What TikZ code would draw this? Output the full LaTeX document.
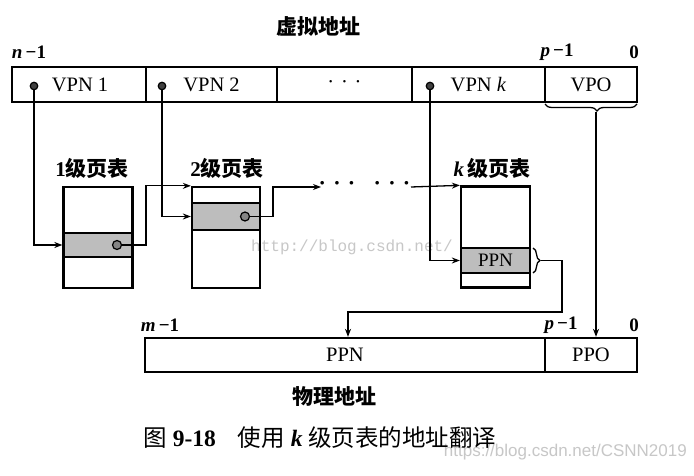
\documentclass[tikz,border=0pt]{standalone}
\usepackage{fontspec}
\setmainfont{Liberation Serif}
\newfontfamily\cjk{Noto Sans CJK SC}
\newfontfamily\wmono{Liberation Mono}
\newfontfamily\wsans{Liberation Sans}
\usetikzlibrary{arrows.meta,decorations.pathreplacing,calc}
\definecolor{shade}{gray}{0.74}
\definecolor{wmark}{gray}{0.78}
\begin{document}
\begin{tikzpicture}[x=1pt,y=-1pt,
  cell/.style={draw,line width=2.3pt,minimum height=35pt,inner sep=0pt,font=\fontsize{20.5}{20.5}\selectfont},
  tbl/.style={draw,line width=2.3pt,minimum width=69pt,minimum height=101pt,inner sep=0pt},
  shaderow/.style={draw,line width=2.3pt,fill=shade,minimum width=69pt,inner sep=0pt,font=\fontsize{19}{19}\selectfont},
  vdot/.style={circle,draw,line width=1.2pt,fill=black!75,minimum size=7.5pt,inner sep=0pt},
  tdot/.style={circle,draw,line width=1.2pt,fill=shade!70!black,minimum size=9pt,inner sep=0pt},
  conn/.style={line width=1.3pt,-{Stealth[length=8pt,width=6pt]}},
  lbl/.style={font=\fontsize{19}{19}\selectfont\bfseries,inner sep=0pt},
  cjklbl/.style={font=\fontsize{21}{21}\selectfont\cjk\bfseries,inner sep=0pt},
  brc/.style={line width=1.3pt,decorate,decoration={brace,amplitude=7pt}},
  dotgroup/.style={font=\fontsize{22}{22}\selectfont\bfseries,inner sep=0pt}
]
\useasboundingbox[fill=white] (0,0) rectangle (694,476);

% watermarks
\node[anchor=west,text=wmark,font=\fontsize{16}{16}\selectfont\wmono,inner sep=0pt] (wm1) at (251,247) {http://blog.csdn.net/};
\node[anchor=east,text=wmark,font=\fontsize{17}{17}\selectfont\wsans,inner sep=0pt] (wm2) at (687,452) {https://blog.csdn.net/CSNN2019};

% virtual address
\node[cjklbl] (vtitle) at (318,27) {虚拟地址};
\node[lbl] (vn) at (29,52) {\textit{n}\,−1};
\node[lbl] (vp) at (557,52) {\textit{p}\,−1};
\node[lbl] (v0) at (634,52) {0};

\node[cell,minimum width=134pt] (vpn1) at (79,84.5) {\hspace*{2pt}VPN 1};
\node[cell,minimum width=131pt] (vpn2) at (211.5,84.5) {\hspace*{0pt}VPN 2};
\node[cell,minimum width=135pt] (vdots) at (344.5,84.5) {·\,\,·\,\,·};
\node[cell,minimum width=133pt] (vpnk) at (478.5,84.5) {VPN \textit{k}};
\node[cell,minimum width=92pt] (vpo) at (591,84.5) {VPO};

\node[vdot] (d1) at (34,86) {};
\node[vdot] (d2) at (162,86) {};
\node[vdot] (dk) at (430,86) {};

% page tables
\node[cjklbl] (l1) at (92,168) {\fontspec{Liberation Serif}\bfseries 1\cjk 级页表};
\node[cjklbl] (l2) at (227,168) {\fontspec{Liberation Serif}\bfseries 2\cjk 级页表};
\node[cjklbl] (lk) at (492,168) {\fontspec{Liberation Serif}\bfseries\itshape k\,\cjk\upshape 级页表};

\node[tbl] (t1) at (98,237.5) {};
\node[shaderow,minimum height=24pt] (r1) at (98,245) {};
\node[tbl,minimum width=68pt] (t2) at (226,237.5) {};
\node[shaderow,minimum width=68pt,minimum height=27pt] (r2) at (226,216.5) {};
\node[tbl] (tk) at (495.5,237) {};
\node[shaderow,minimum height=25pt] (rk) at (495.5,260.5) {PPN};

\node[tdot] (p1) at (117,245) {};
\node[tdot] (p2) at (245,216.5) {};

% connectors
\draw[conn] (d1) |- (r1.west);
\draw[conn] (p1.east) -- ++(24,0) coordinate (c1) |- (t2.north west);
\draw[conn] (d2) |- (r2.west);
\draw[conn] (p2.east) -- ++(23,0) |- (321,187) coordinate (c2);
\node[dotgroup] (g1) at (337,186) {·\,\,·\,\,·};
\node[dotgroup] (g2) at (392,186) {·\,\,·\,\,·};
\coordinate (c3) at (411,187);
\draw[conn] (c3) -- (tk.north west);
\draw[conn] (dk) |- (rk.west);

% brace on PPN entry
\draw[brc] (533,248) -- (533,273);
\coordinate (bk) at (541,260.5);

% physical address
\node[cell,minimum width=400pt,minimum height=34pt] (ppn) at (345,355) {PPN};
\node[cell,minimum width=92pt,minimum height=34pt] (ppo) at (591,355) {PPO};
\node[lbl] (pm) at (160,325) {\textit{m}\,−1};
\node[lbl] (pp) at (561,325) {\textit{p}\,−1};
\node[lbl] (p0) at (634,325) {0};
\node[cjklbl] (ptitle) at (334,397) {物理地址};

\coordinate (bend) at (348,312);
\draw[conn] (bk) -- ++(21,0) |- (bend) -- (bend |- ppn.north);

% VPO brace
\draw[brc,decoration={brace,amplitude=7pt,aspect=0.435}] (637,104) -- (545,104);
\coordinate (vtip) at (596,112);
\draw[conn] (vtip) -- (vtip |- ppo.north);

% caption
\node[inner sep=0pt,font=\fontsize{23.5}{23.5}\selectfont] (cap) at (320,438) {{\cjk 图} \textbf{9-18}\hspace{22pt}{\cjk 使用} \textbf{\textit{k}} {\cjk 级页表的地址翻译}};
\end{tikzpicture}
\end{document}
